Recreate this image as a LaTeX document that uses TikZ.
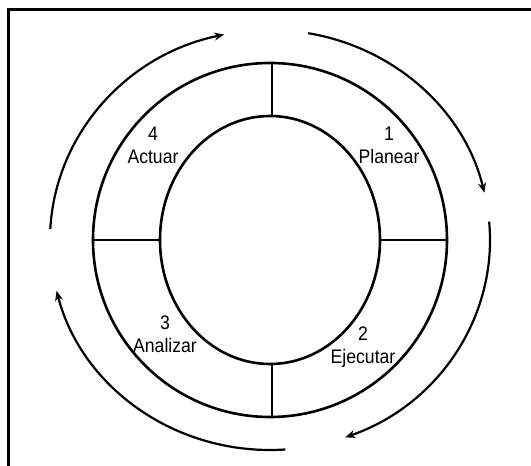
\documentclass[tikz,border=0pt]{standalone}
\usepackage{fontspec}
\setsansfont[FakeStretch=0.9]{Liberation Sans}
\usetikzlibrary{calc,arrows.meta}

\begin{document}
\begin{tikzpicture}[x=0.5pt, y=0.5pt, >={Stealth[length=5pt,width=4pt]},
  ring/.style={line width=1.3pt},
  spoke/.style={line width=1.2pt},
  cyc/.style={->, line width=1.1pt},
  phase/.style={align=center, inner sep=0pt, font=\sffamily\fontsize{9.8}{11.5}\selectfont}]
  \useasboundingbox (0,0) rectangle (531,466);
  \draw[line width=1.5pt] (8,-10) rectangle (545,456);
  \coordinate (c) at (270,226);
  % rings
  \draw[ring] (c) circle[radius=177];
  \draw[ring] (c) ellipse[x radius=110, y radius=124];
  \draw[spoke] ($(c)+(2,124)$) -- ($(c)+(2,177)$);
  \draw[spoke] ($(c)+(2,-124)$) -- ($(c)+(2,-177)$);
  \draw[spoke] ($(c)+(-110,0)$) -- ($(c)+(-177,0)$);
  \draw[spoke] ($(c)+(110,0)$) -- ($(c)+(177,0)$);
  % cycle arrows
  \draw[cyc] ($(c)+(177:220 and 210)$) arc[start angle=177, end angle=102, x radius=220, y radius=210];
  \draw[cyc] ($(c)+(80:220 and 210)$) arc[start angle=80, end angle=13, x radius=220, y radius=210];
  \draw[cyc] ($(c)+(5:220 and 210)$) arc[start angle=5, end angle=-70, x radius=220, y radius=210];
  \draw[cyc] ($(c)+(-86:220 and 210)$) arc[start angle=-86, end angle=-166, x radius=220, y radius=210];
  % phases
  \node[phase] (plan) at (389,321) {1\\Planear};
  \node[phase] (ejec) at (363,119) {2\\Ejecutar};
  \node[phase] (anal) at (165,132) {3\\Analizar};
  \node[phase] (actu) at (153,321) {4\\Actuar};
\end{tikzpicture}
\end{document}
